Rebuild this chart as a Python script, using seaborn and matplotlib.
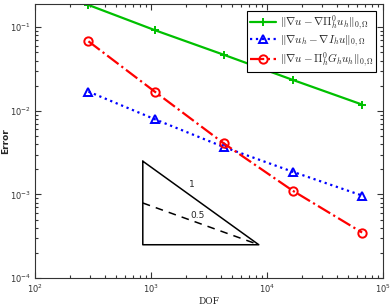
import matplotlib
matplotlib.use("Agg")
import matplotlib.pyplot as plt
import seaborn as sns
import numpy as np
import pandas as pd
from matplotlib.ticker import LogLocator, NullFormatter

dof = [289, 1089, 4225, 16641, 66049]
err_pi = [0.185, 0.092, 0.047, 0.0235, 0.0119]
err_interp = [0.017, 0.0079, 0.0037, 0.00187, 0.00097]
err_recon = [0.068, 0.0168, 0.0041, 0.00111, 0.00035]
labels = [r'$\Vert\nabla u-\nabla\Pi_h^0 u_h\Vert_{0,\Omega}$',
          r'$\Vert\nabla u_h-\nabla I_h u\Vert_{0,\Omega}$',
          r'$\Vert\nabla u-\Pi_h^0 G_h u_h\Vert_{0,\Omega}$']
tri_x = [850, 8500]
tri_y = [2.5e-4, 2.5e-3]
tri_mid = 7.9e-4

sns.set_style("ticks")
plt.rcParams['font.family'] = ['DejaVu Sans']

fig = plt.figure(figsize=(3.9, 3.08), dpi=100)
ax = fig.add_axes([0.0897, 0.0974, 0.982 - 0.0897, 0.987 - 0.0974])

series = [(err_pi, '#00c000', '-', '+', 'none'),
          (err_interp, '#0000ff', ':', '^', 'none'),
          (err_recon, '#ff0000', '-.', 'o', 'none')]
for (vals, col, ls, mk, fc), lab in zip(series, labels):
    df = pd.DataFrame({'DOF': dof, 'Error': vals})
    sns.lineplot(data=df, x='DOF', y='Error', ax=ax, color=col, linestyle=ls,
                 marker=mk, markersize=6, markerfacecolor=fc, markeredgecolor=col,
                 markeredgewidth=1.4, linewidth=1.6, label=lab)

# slope triangle
ax.plot([tri_x[0], tri_x[0], tri_x[1], tri_x[0]],
        [tri_y[1], tri_y[0], tri_y[0], tri_y[1]], color='black', lw=1.1)
ax.plot([tri_x[0], tri_x[1]], [tri_mid, tri_y[0]], color='black', lw=1.1, ls=(0, (5, 4)))
ax.text(2250, 1.3e-3, '1', fontsize=6.5, ha='center', va='center')
ax.text(2500, 5.6e-4, '0.5', fontsize=6.5, ha='center', va='center')

ax.set_xscale('log')
ax.set_yscale('log')
ax.set_xlim(1e2, 1e5)
ax.set_ylim(1e-4, 0.19)
ax.xaxis.set_major_locator(LogLocator(base=10, numticks=10))
ax.xaxis.set_minor_locator(LogLocator(base=10, subs=np.arange(2, 10), numticks=20))
ax.yaxis.set_major_locator(LogLocator(base=10, numticks=10))
ax.yaxis.set_minor_locator(LogLocator(base=10, subs=np.arange(2, 10), numticks=20))
ax.xaxis.set_minor_formatter(NullFormatter())
ax.yaxis.set_minor_formatter(NullFormatter())
ax.tick_params(which='both', direction='in', top=True, right=True, labelsize=6,
               width=0.8, color='#333333', labelcolor='#333333')
ax.tick_params(which='major', length=4, pad=3)
ax.tick_params(which='minor', length=2)
for s in ax.spines.values():
    s.set_linewidth(0.8)
    s.set_color('#333333')
    s.set_visible(True)

ax.set_xlabel('DOF', fontsize=6.5, family='DejaVu Serif', labelpad=2)
ax.set_ylabel('Error', fontsize=6.5, fontweight='bold', labelpad=0)

leg = ax.legend(loc='upper right', fontsize=8, frameon=True, fancybox=False,
                edgecolor='black', framealpha=1, borderpad=0.25, labelspacing=0.15,
                handlelength=2.4, handletextpad=0.3, borderaxespad=0.6)
leg.get_frame().set_linewidth(0.8)
for t in leg.get_texts():
    t.set_math_fontfamily('cm')

fig.savefig('out.png', dpi=100)
